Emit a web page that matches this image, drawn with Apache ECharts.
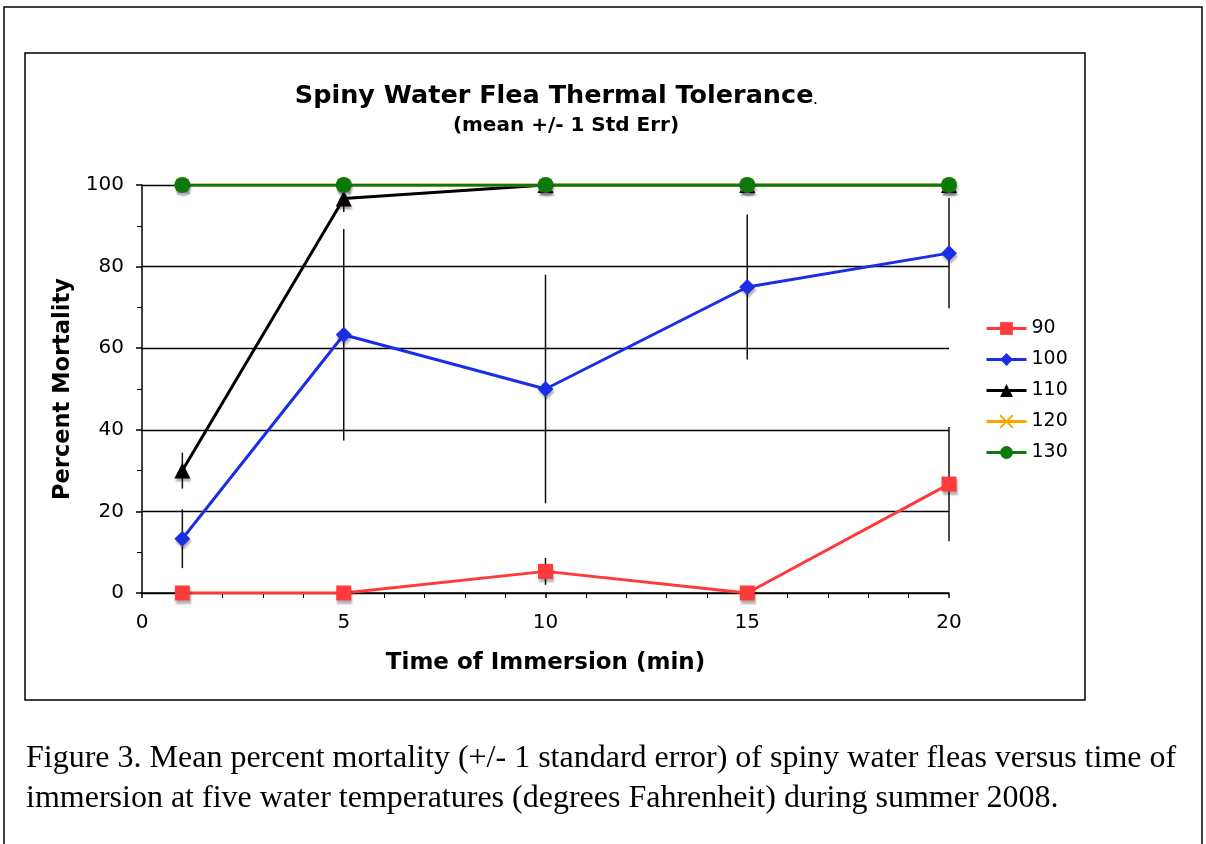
<!DOCTYPE html>
<html>
<head>
<meta charset="utf-8">
<script src="https://cdn.jsdelivr.net/npm/echarts@6/dist/echarts.min.js"></script>
<style>
  html, body { margin: 0; padding: 0; background: #fff; }
  #chart { width: 1206px; height: 844px; }
</style>
</head>
<body>
<div id="chart"></div>
<script>
// time of immersion (min)
const timeMin = [1, 5, 10, 15, 20];
const xTicks = [0, 5, 10, 15, 20];
const yTicks = [0, 20, 40, 60, 80, 100];

// mean percent mortality per water temperature (F)
const temps = ['90', '100', '110', '120', '130'];
const mort90  = [0, 0, 5.3, 0, 26.7];
const mort100 = [13.3, 63.3, 50, 75, 83.3];
const mort110 = [30, 96.7, 100, 100, 100];
const mort120 = [100, 100, 100, 100, 100];
const mort130 = [100, 100, 100, 100, 100];

// +/- 1 std err
const err90  = [0, 0, 3.3, 0, 14];
const err100 = [7.2, 25.9, 28, 17.8, 13.5];
const err110 = [4.4, 3.3, 0, 0, 0];
const err120 = [0, 0, 0, 0, 0];
const err130 = [0, 0, 0, 0, 0];

const means = [mort90, mort100, mort110, mort120, mort130];
const errs = [err90, err100, err110, err120, err130];
const colors = ['#ff3a3a', '#1a2ee6', '#000000', '#ffa500', '#0b7a0b'];
const symbols = ['rect', 'diamond', 'triangle', 'path://M0 0L10 10M10 0L0 10', 'circle'];
const symSizes = [15, 16, 16, 12, 16];

const chart = echarts.init(document.getElementById('chart'));

// error bars, built from the mean and std err arrays
const errData = [];
means.forEach((m, s) => {
  timeMin.forEach((t, i) => {
    if (errs[s][i] > 0) errData.push([t, m[i] - errs[s][i], m[i] + errs[s][i]]);
  });
});

const lineSeries = temps.map((name, s) => ({
  name: name,
  type: 'line',
  data: timeMin.map((t, i) => [t, means[s][i]]),
  symbol: symbols[s],
  symbolSize: symSizes[s],
  showAllSymbol: true,
  z: 3 + s,
  lineStyle: { color: colors[s], width: 3 },
  itemStyle: {
    color: colors[s],
    borderColor: s === 3 ? colors[s] : undefined,
    borderWidth: s === 3 ? 2 : 0,
    shadowColor: 'rgba(0,0,0,0.3)',
    shadowOffsetX: 1,
    shadowOffsetY: 3,
    shadowBlur: 2
  }
}));

chart.setOption({
  animation: false,
  textStyle: { fontFamily: 'DejaVu Sans' },
  grid: { left: 142, right: 257, top: 185, bottom: 251 },
  graphic: [
    { type: 'rect', shape: { x: 4, y: 7, width: 1198, height: 860 },
      style: { fill: 'none', stroke: '#000', lineWidth: 1.5 }, silent: true },
    { type: 'rect', shape: { x: 25, y: 53, width: 1060, height: 647 },
      style: { fill: 'none', stroke: '#000', lineWidth: 1.5 }, silent: true },
    { type: 'text', x: 556, y: 96,
      style: { text: '{a|Spiny Water Flea Thermal Tolerance}{b|.}', align: 'center', verticalAlign: 'middle',
        rich: {
          a: { fontFamily: 'DejaVu Sans', fontWeight: 'bold', fontSize: 25.5, fill: '#000' },
          b: { fontFamily: 'DejaVu Sans', fontWeight: 'bold', fontSize: 10, fill: '#000', padding: [10, 0, 0, 0] }
        } } },
    { type: 'text', x: 566, y: 126,
      style: { text: '(mean +/- 1 Std Err)', align: 'center', verticalAlign: 'middle',
        fontFamily: 'DejaVu Sans', fontWeight: 'bold', fontSize: 20, fill: '#000' } },
    { type: 'text', x: 26, y: 759,
      style: { text: 'Figure 3. Mean percent mortality (+/- 1 standard error) of spiny water fleas versus time of',
        verticalAlign: 'middle', fontFamily: 'Liberation Serif', fontSize: 32, fill: '#000' } },
    { type: 'text', x: 26, y: 799,
      style: { text: 'immersion at five water temperatures (degrees Fahrenheit) during summer 2008.',
        verticalAlign: 'middle', fontFamily: 'Liberation Serif', fontSize: 32, fill: '#000' } }
  ],
  legend: {
    data: temps,
    orient: 'vertical',
    left: 980,
    top: 314,
    itemWidth: 40,
    itemHeight: 16,
    itemGap: 12,
    lineStyle: { width: 3 },
    textStyle: { fontFamily: 'DejaVu Sans', fontSize: 19, color: '#000' }
  },
  xAxis: {
    type: 'value',
    min: xTicks[0],
    max: xTicks[xTicks.length - 1],
    interval: 5,
    name: 'Time of Immersion (min)',
    nameLocation: 'middle',
    nameGap: 59,
    nameTextStyle: { fontFamily: 'DejaVu Sans', fontWeight: 'bold', fontSize: 23, color: '#000' },
    axisLine: { lineStyle: { color: '#000', width: 1.5 } },
    axisTick: { show: true, length: 5, lineStyle: { color: '#000', width: 1.5 } },
    minorTick: { show: true, splitNumber: 5, length: 5, lineStyle: { color: '#000', width: 1 } },
    axisLabel: { fontSize: 20, color: '#000', margin: 20 },
    splitLine: { show: false }
  },
  yAxis: {
    type: 'value',
    min: yTicks[0],
    max: yTicks[yTicks.length - 1],
    interval: 20,
    name: 'Percent Mortality',
    nameLocation: 'middle',
    nameGap: 62,
    nameTextStyle: { fontFamily: 'DejaVu Sans', fontWeight: 'bold', fontSize: 22.5, color: '#000' },
    axisLine: { show: true, lineStyle: { color: '#000', width: 1.5 } },
    axisTick: { show: true, length: 6, lineStyle: { color: '#000', width: 1.5 } },
    minorTick: { show: true, splitNumber: 2, length: 5, lineStyle: { color: '#000', width: 1 } },
    axisLabel: { fontSize: 20, color: '#000', margin: 18 },
    splitLine: { show: true, lineStyle: { color: '#000', width: 1.3 } }
  },
  series: [
    {
      name: 'err',
      type: 'custom',
      z: 2,
      data: errData,
      renderItem: function (params, api) {
        const p1 = api.coord([api.value(0), api.value(1)]);
        const p2 = api.coord([api.value(0), api.value(2)]);
        return {
          type: 'line',
          shape: { x1: p1[0], y1: p1[1], x2: p2[0], y2: p2[1] },
          style: { stroke: '#111', lineWidth: 1.5 }
        };
      }
    }
  ].concat(lineSeries)
});
</script>
</body>
</html>
